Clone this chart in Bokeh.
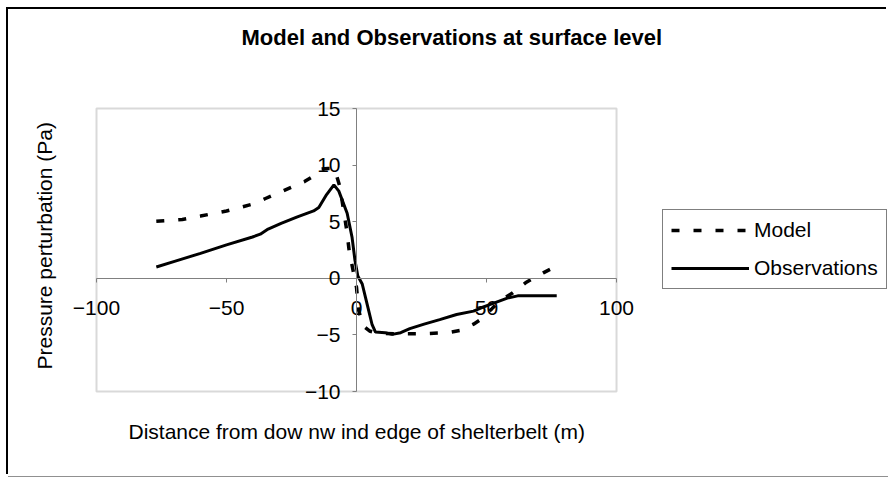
from bokeh.plotting import figure
from bokeh.models import LinearAxis, FixedTicker, Legend, LegendItem, Range1d, Title, BoxAnnotation
from bokeh.embed import file_html
from bokeh.resources import INLINE

# ---- data ----
x_ticks = [-100, -50, 0, 50, 100]
y_ticks = [-10, -5, 0, 5, 10, 15]

obs_x = [-77, -70, -60, -50, -40, -37, -34, -29, -23, -16.5, -14.5, -11.5, -8.7, -6.8,
         -3.6, -1.7, -0.6, 0.5, 2.2, 4.1, 6, 7.3, 11, 13.7, 17, 20.5, 26, 32, 38.5, 45,
         48, 51.5, 58, 62, 70, 77]
obs_y = [1.0, 1.5, 2.2, 2.95, 3.65, 3.9, 4.35, 4.85, 5.4, 5.95, 6.25, 7.4, 8.25, 7.7,
         5.75, 3.6, 1.6, 0.2, -0.5, -2.3, -4.1, -4.75, -4.8, -4.95, -4.8, -4.45, -4.05,
         -3.65, -3.2, -2.9, -2.6, -2.3, -1.75, -1.55, -1.55, -1.55]

mod_x = [-77, -67, -60, -50, -40, -35, -30, -25, -20, -16, -13.5, -11, -8.5, -6.4, -3.8,
         -2.8, -1.5, 0, 0.8, 2.5, 5, 8, 15, 25, 35, 40, 45, 48, 52, 55, 60, 65, 68, 72, 77]
mod_y = [5.05, 5.2, 5.5, 5.95, 6.55, 7.05, 7.55, 8.05, 8.55, 9.1, 9.65, 9.7, 9.7, 8.1,
         4.3, 2.4, 0.9, -0.8, -2.8, -4.2, -4.65, -4.85, -4.9, -4.9, -4.8, -4.6, -4.05,
         -3.6, -2.7, -2.0, -1.3, -0.4, 0.0, 0.5, 1.1]

FONT = "Liberation Sans"
# frame is larger than the plot box: room for end tick labels and the legend
XPAD_L, XPAD_R, YPAD_B, YPAD_T = 10, 104.6, 1.5, 4.33

p = figure(width=880, height=467,
           x_range=Range1d(x_ticks[0] - XPAD_L, x_ticks[-1] + XPAD_R),
           y_range=Range1d(y_ticks[0] - YPAD_B, y_ticks[-1] + YPAD_T),
           output_backend="svg", toolbar_location=None,
           x_axis_location=None, y_axis_location=None,
           min_border_left=62, min_border_right=0, min_border_top=50, min_border_bottom=68)
p.grid.visible = False
p.outline_line_color = None
p.background_fill_color = "white"
p.border_fill_color = "white"
p.styles = {"margin-left": "8px", "margin-top": "9px",
            "box-shadow": "-2px -2px 0 0 #000000, 0 1px 0 0 #909090"}

# plot-area box
p.add_layout(BoxAnnotation(left=x_ticks[0], right=x_ticks[-1], bottom=y_ticks[0], top=y_ticks[-1],
                           fill_color=None, line_color="#808080", line_width=2, level="underlay"))

p.title = Title(text="Model and Observations at surface level", align="left",
                vertical_align="bottom",
                text_font=FONT, text_font_size="22px", text_font_style="bold",
                text_color="black", offset=171, standoff=20)

# axis titles, placed beside the plot box
p.add_layout(Title(text="Distance from dow nw ind edge of shelterbelt (m)", align="left",
                   vertical_align="top", text_font=FONT, text_font_size="21px",
                   text_font_style="normal", text_color="black", offset=58, standoff=22),
             "below")
p.add_layout(Title(text="Pressure perturbation (Pa)", align="left",
                   vertical_align="bottom", text_font=FONT, text_font_size="21px",
                   text_font_style="normal", text_color="black", offset=39, standoff=30),
             "left")

# axes crossing at zero
xax = LinearAxis(fixed_location=0, ticker=FixedTicker(ticks=x_ticks), bounds=(x_ticks[0], x_ticks[-1]),
                 axis_line_color="#808080", axis_line_width=1,
                 major_tick_line_color="#808080", major_tick_in=0, major_tick_out=4,
                 minor_tick_line_color=None, major_label_standoff=19,
                 major_label_text_font=FONT, major_label_text_font_size="21px",
                 major_label_text_color="black")
yax = LinearAxis(fixed_location=0, ticker=FixedTicker(ticks=y_ticks), bounds=(y_ticks[0], y_ticks[-1]),
                 axis_line_color="#808080", axis_line_width=1,
                 major_tick_line_color="#808080", major_tick_in=0, major_tick_out=4,
                 minor_tick_line_color=None, major_label_standoff=12,
                 major_label_text_font=FONT, major_label_text_font_size="21px",
                 major_label_text_color="black")
p.add_layout(xax, "below")
p.add_layout(yax, "left")

r_mod = p.line(mod_x, mod_y, line_color="black", line_width=3.5, line_dash="8 14")
r_obs = p.line(obs_x, obs_y, line_color="black", line_width=3)

legend = Legend(items=[LegendItem(label="Model", renderers=[r_mod]),
                       LegendItem(label="Observations", renderers=[r_obs])],
                location=(592, 119), border_line_color="black", border_line_width=1,
                background_fill_color="white", background_fill_alpha=1,
                label_text_font=FONT, label_text_font_size="21px", label_text_color="black",
                glyph_width=78, glyph_height=20, label_height=20, label_standoff=5,
                spacing=14, padding=8, margin=0)
p.add_layout(legend)

open("out.html", "w").write(file_html(p, INLINE))
